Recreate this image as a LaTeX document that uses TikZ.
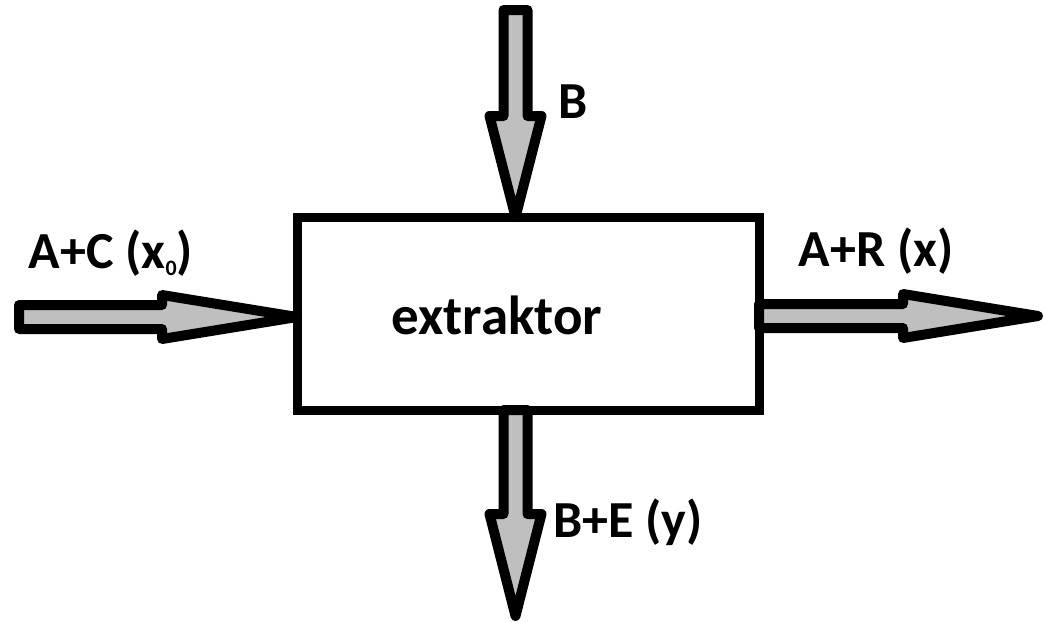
\documentclass[tikz,border=0pt]{standalone}
\usepackage{fontspec}
\setmainfont{Carlito}
\usetikzlibrary{calc, backgrounds}

% block arrow: from, to, head length, head half width
\newcommand{\flowarrow}[4]{%
  \coordinate (fa-s) at (#1);
  \coordinate (fa-e) at (#2);
  \coordinate (fa-b) at ($(fa-e)!#3!(fa-s)$);
  \draw[flow] ($(fa-s)!6pt!90:(fa-e)$) -- ($(fa-b)!6pt!-90:(fa-s)$) -- ($(fa-b)!#4!-90:(fa-s)$)
    -- (fa-e) -- ($(fa-b)!#4!90:(fa-s)$) -- ($(fa-b)!6pt!90:(fa-s)$) -- ($(fa-s)!6pt!-90:(fa-e)$) -- cycle;
}

\begin{document}
\begin{tikzpicture}[
  x=0.5pt, y=-0.5pt,
  box/.style={rectangle, draw, line width=4.5pt, minimum width=231pt, minimum height=96.5pt, outer sep=0pt},
  flow/.style={draw, line width=5pt, line join=round, fill=black!25},
  lbl/.style={font=\bfseries\fontsize{26}{31}\selectfont, inner sep=0pt},
]
\useasboundingbox (0,0) rectangle (1045,622);

\node[box] (ext) at (528,313.5) {};
\node[lbl, font=\bfseries\fontsize{27.5}{33}\selectfont] (lext) at (497,315) {extraktor};

\coordinate (inAC) at (19,317);
\coordinate (inB) at (515.5,10);
\coordinate (outAR) at (1038,316);
\coordinate (outBE) at (515.5,616);

\begin{scope}[on background layer]
\flowarrow{inAC}{inAC -| ext.west}{67.5pt}{11pt}
\flowarrow{inB}{inB |- ext.north}{50.5pt}{13pt}
\flowarrow{inB |- ext.south}{outBE}{51pt}{13pt}
\flowarrow{outAR -| ext.east}{outAR}{67.5pt}{11pt}
\end{scope}

\node[lbl] (lAC) at (111,253) {A+C (x\raisebox{-0.3ex}{\fontsize{11}{11}\selectfont 0})};
\node[lbl] (lB) at (573,102) {B};
\node[lbl] (lAR) at (876,251) {A+R (x)};
\node[lbl] (lBE) at (628,522) {B+E (y)};
\end{tikzpicture}
\end{document}
